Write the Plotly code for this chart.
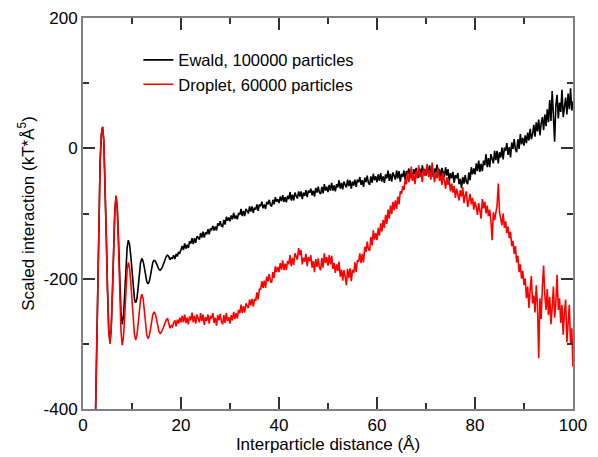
import plotly.graph_objects as go

# one sample every 0.25 Å from 2.5 to 100 Å
distance = [2.5 + 0.25 * i for i in range(391)]

# axis ticks (labels use a plain hyphen, as in the original)
y_ticks = [-400, -200, 0, 200]
y_labels = ["-400", "-200", "0", "200"]

# Ewald, 100000 particles: 2.5-18.0 Å (oscillations)
ewald_near = [
    -430, -330, -210, -100, -20, 22, 33, 11, -50, -134, -217, -278, -297,
    -278, -222, -151, -95, -73, -92, -141, -202, -251, -270, -258, -225, -186,
    -153, -141, -147, -165, -189, -213, -231, -237, -231, -214, -192, -175, -169,
    -173, -182, -195, -204, -208, -205, -196, -184, -175, -172, -173, -177, -182,
    -186, -187, -185, -181, -176, -170, -166, -164, -166, -171, -168,
]
# Ewald: 18.25-100 Å
ewald_far = [
    -169, -164, -170, -162, -166, -159, -161, -154,
    -150, -156, -146, -154, -148, -153, -143, -146, -138, -147, -138, -145, -135, -137, -140, -130, -137, -128, -137, -129,
    -132, -124, -132, -123, -125, -119, -126, -120, -126, -115, -119, -112, -119, -120, -110, -117, -105, -111, -106, -112,
    -103, -109, -99, -108, -103, -109, -99, -102, -93, -104, -96, -104, -93, -96, -100, -89, -97, -89, -99, -91,
    -94, -86, -96, -86, -89, -82, -92, -86, -93, -82, -86, -79, -87, -89, -79, -86, -75, -82, -78, -84,
    -74, -81, -72, -82, -75, -83, -73, -78, -67, -80, -71, -80, -68, -73, -77, -66, -74, -66, -78, -68,
    -73, -64, -75, -65, -68, -62, -72, -65, -74, -61, -68, -59, -68, -70, -59, -69, -55, -65, -59, -67,
    -56, -65, -53, -65, -57, -66, -55, -60, -49, -62, -53, -63, -51, -56, -60, -48, -58, -49, -62, -51,
    -57, -48, -59, -48, -52, -44, -56, -49, -59, -45, -52, -42, -53, -56, -43, -53, -39, -49, -43, -52,
    -40, -50, -38, -51, -43, -53, -40, -46, -34, -50, -39, -51, -37, -42, -48, -34, -46, -35, -51, -39,
    -44, -34, -48, -35, -39, -31, -45, -36, -48, -32, -40, -30, -41, -45, -31, -43, -26, -38, -32, -42,
    -28, -39, -26, -42, -33, -44, -31, -37, -25, -43, -32, -45, -30, -37, -44, -29, -42, -32, -50, -38,
    -46, -36, -53, -41, -46, -38, -55, -47, -61, -44, -54, -41, -52, -55, -37, -49, -29, -40, -31, -40,
    -23, -35, -19, -36, -24, -35, -19, -26, -9, -29, -15, -29, -9, -16, -23, -4, -18, -4, -23, -6,
    -14, 1, -17, 1, -4, 8, -10, 2, -14, 9, -1, 14, -2, -6, 14, -1, 22, 6, 16, 4,
    20, 8, 24, 12, 30, 14, 22, 36, 18, 40, 26, 44, 20, 38, 48, 28, 52, 34, 60, 40,
    74, 42, 88, 50, 10, 66, 82, 46, 70, 56, 90, 48, 62, 78, 52, 84, 60, 92, 58, 72,
]

# Droplet, 60000 particles: 2.5-18.0 Å (oscillations)
droplet_near = [
    -430, -330, -210, -100, -20, 22, 33, 11, -50, -134, -217, -278, -300,
    -278, -222, -151, -95, -73, -95, -152, -223, -280, -302, -290, -258, -219,
    -187, -175, -183, -205, -235, -264, -286, -294, -287, -270, -248, -231, -224,
    -230, -247, -269, -286, -292, -288, -278, -265, -255, -251, -254, -262, -273,
    -281, -284, -282, -278, -273, -267, -263, -261, -268, -276, -272,
]
# Droplet: 18.25-100 Å
droplet_far = [
    -274, -268, -264, -273, -263, -269, -260, -267,
    -257, -267, -255, -268, -260, -270, -258, -264, -252, -267, -257, -269, -255, -261, -267, -253, -265, -255, -271, -259,
    -265, -255, -269, -257, -261, -253, -268, -260, -272, -256, -264, -254, -266, -270, -256, -268, -253, -265, -259, -269,
    -256, -264, -251, -262, -253, -261, -248, -253, -240, -253, -242, -252, -238, -242, -245, -232, -241, -231, -243, -231,
    -234, -221, -232, -216, -216, -204, -214, -203, -214, -197, -204, -193, -204, -206, -190, -199, -181, -190, -182, -190,
    -176, -186, -172, -187, -177, -187, -173, -178, -164, -181, -168, -179, -161, -166, -171, -153, -164, -156, -178, -168,
    -174, -162, -181, -167, -173, -164, -183, -173, -190, -170, -182, -169, -183, -187, -168, -183, -161, -176, -167, -180,
    -164, -178, -165, -185, -176, -191, -178, -188, -174, -197, -186, -203, -187, -197, -210, -185, -199, -184, -204, -187,
    -191, -175, -190, -172, -174, -161, -176, -162, -175, -151, -159, -143, -155, -157, -136, -149, -126, -140, -130, -141,
    -122, -134, -115, -128, -110, -122, -102, -116, -94, -108, -88, -101, -82, -95, -80, -93, -74, -86, -66, -70,
    -58, -64, -48, -55, -36, -52, -44, -28, -50, -40, -55, -34, -46, -26, -44, -38, -52, -30, -42, -36,
    -24, -44, -34, -48, -22, -40, -52, -36, -46, -30, -50, -42, -56, -38, -48, -62, -44, -56, -50, -66,
    -54, -68, -58, -76, -62, -70, -80, -64, -74, -60, -84, -72, -66, -90, -78, -70, -86, -76, -94, -82,
    -90, -102, -84, -96, -108, -78, -92, -82, -100, -88, -104, -94, -112, -141, -98, -110, -96, -88, -54, -98,
    -108, -118, -100, -122, -112, -130, -120, -138, -128, -150, -142, -162, -150, -175, -165, -190, -178, -200, -188, -210,
    -200, -230, -212, -245, -218, -196, -238, -226, -252, -210, -240, -322, -230, -262, -212, -180, -226, -248, -216, -256,
    -228, -270, -244, -212, -260, -236, -194, -248, -230, -268, -240, -286, -252, -232, -298, -262, -240, -300, -276, -335,
]

ewald = ewald_near + ewald_far
droplet = droplet_near + droplet_far

fig = go.Figure()
fig.add_trace(go.Scatter(x=distance, y=ewald, mode="lines",
                         name="Ewald, 100000 particles",
                         line=dict(color="black", width=1.6)))
fig.add_trace(go.Scatter(x=distance, y=droplet, mode="lines",
                         name="Droplet, 60000 particles",
                         line=dict(color="#ff0000", width=1.6)))

# the page body adds an 8 px margin, so the figure is drawn 8 px smaller
fig.update_layout(
    width=590, height=449,
    margin=dict(l=75, r=25, t=10, b=48, pad=0),
    plot_bgcolor="white", paper_bgcolor="white",
    font=dict(family="Liberation Sans, Arial, sans-serif", size=17, color="black"),
    legend=dict(x=0.113, y=0.937, xanchor="left", yanchor="top",
                bgcolor="rgba(0,0,0,0)", font=dict(size=16.5),
                tracegroupgap=0, itemwidth=30),
    showlegend=True,
)

# boxed axes with inward ticks on all four sides
fig.update_xaxes(range=[0, 100], dtick=20, ticks="inside", ticklen=12,
                 tickcolor="#333", tickwidth=1.5, automargin=False,
                 minor=dict(dtick=10, ticks="inside", ticklen=6, tickcolor="#333"),
                 showline=True, linecolor="#808080", linewidth=2, mirror="allticks",
                 showgrid=False, zeroline=False,
                 title=dict(text="Interparticle distance (Å)", standoff=3,
                            font=dict(size=17)))
fig.update_yaxes(range=[-400, 200], tickmode="array", tickvals=y_ticks, ticktext=y_labels,
                 ticks="inside", ticklen=12,
                 tickcolor="#333", tickwidth=1.5, automargin=False,
                 minor=dict(tickmode="linear", tick0=-400, dtick=100, ticks="inside",
                            ticklen=6, tickcolor="#333"),
                 showline=True, linecolor="#808080", linewidth=2, mirror="allticks",
                 showgrid=False, zeroline=False,
                 title=dict(text="Scaled interaction (kT*Å<sup>5</sup>)", standoff=5,
                            font=dict(size=17)))

fig.write_html("out.html")
